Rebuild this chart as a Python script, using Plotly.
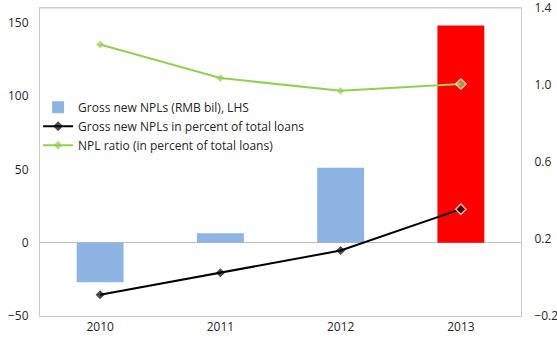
import plotly.graph_objects as go

years = ["2010", "2011", "2012", "2013"]
gross_new_npl = [-27, 6.5, 51, 148]
gross_new_pct = [-0.09, 0.025, 0.14, 0.355]
npl_ratio = [1.21, 1.036, 0.97, 1.005]

bar_colors = ["#8EB4E3", "#8EB4E3", "#8EB4E3", "#FF0000"]
font_fam = "Open Sans, Noto Sans, sans-serif"

fig = go.Figure()
fig.add_trace(go.Bar(
    x=years, y=gross_new_npl, name="Gross new NPLs (RMB bil), LHS",
    marker=dict(color=bar_colors, line=dict(width=0)), width=0.39, yaxis="y"))
fig.add_trace(go.Scatter(
    x=years, y=gross_new_pct, name="Gross new NPLs in percent of total loans",
    mode="lines+markers", line=dict(color="black", width=2),
    marker=dict(symbol="diamond", size=[7, 7, 7, 8], color="black",
                line=dict(color=["black", "black", "black", "white"], width=[0, 0, 0, 1.5])),
    yaxis="y2"))
fig.add_trace(go.Scatter(
    x=years, y=npl_ratio, name="NPL ratio (in percent of total loans)",
    mode="lines+markers", line=dict(color="#92D050", width=2),
    marker=dict(symbol="diamond", size=[6, 6, 6, 8], color="#92D050",
                line=dict(color=["#92D050", "#92D050", "#92D050", "white"], width=[0, 0, 0, 1.5])),
    yaxis="y2"))

fig.update_layout(
    width=557, height=347,
    margin=dict(l=40, r=36, t=8, b=31, autoexpand=False),
    paper_bgcolor="white", plot_bgcolor="white",
    font=dict(family=font_fam, size=12, color="#262626"),
    showlegend=True,
    legend=dict(x=-0.004, y=0.725, xanchor="left", yanchor="top",
                bgcolor="rgba(0,0,0,0)", font=dict(size=12, color="#262626"),
                itemwidth=30, tracegroupgap=0),
    xaxis=dict(type="category", showline=True, linecolor="#CCCCCC", linewidth=1, mirror=True,
               ticks="", tickfont=dict(size=12), showgrid=False, automargin=False),
    yaxis=dict(range=[-50, 160], tickvals=[-50, 0, 50, 100, 150], showgrid=False,
               zeroline=True, zerolinecolor="#BFBFBF", zerolinewidth=1, automargin=False,
               showline=True, linecolor="#CCCCCC", linewidth=1, mirror=True, ticks="outside",
               ticklen=8, tickcolor="rgba(0,0,0,0)"),
    yaxis2=dict(range=[-0.20001, 1.40001], tickvals=[-0.2, 0.2, 0.6, 1.0, 1.4], tickformat=".1f",
                overlaying="y", side="right", showgrid=False, zeroline=False,
                ticklabeloverflow="allow", automargin=False,
                ticks="outside", ticklen=10, tickcolor="rgba(0,0,0,0)"),
    shapes=[dict(type="line", xref="paper", yref="paper", x0=0, x1=1, y0=1, y1=1,
                 line=dict(color="#CCCCCC", width=1))],
)

fig.write_html("out.html", config={"displayModeBar": False},
               post_script="document.body.style.margin='0';document.body.style.overflow='hidden';")
